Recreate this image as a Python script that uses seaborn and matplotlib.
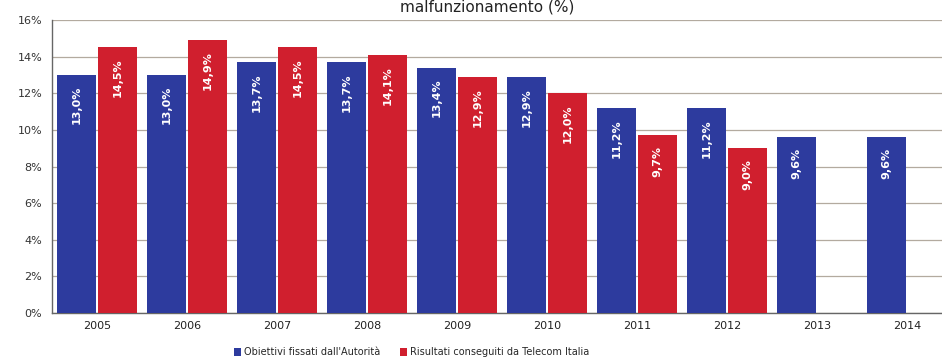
import numpy as np
import pandas as pd
import matplotlib
matplotlib.use("Agg")
import matplotlib.pyplot as plt
import seaborn as sns

anni = ["2005", "2006", "2007", "2008", "2009", "2010", "2011", "2012", "2013", "2014"]
obiettivi = [13.0, 13.0, 13.7, 13.7, 13.4, 12.9, 11.2, 11.2, 9.6, 9.6]
risultati = [14.5, 14.9, 14.5, 14.1, 12.9, 12.0, 9.7, 9.0, np.nan, np.nan]
serie = ["Obiettivi fissati dall'Autorità", "Risultati conseguiti da Telecom Italia"]
colori = ["#2d3b9e", "#d01f2e"]

df = pd.DataFrame({
    "anno": anni * 2,
    "valore": obiettivi + risultati,
    "serie": [serie[0]] * len(anni) + [serie[1]] * len(anni),
})

sns.set_style("white")
plt.rcParams["font.family"] = ["DejaVu Sans"]

fig = plt.figure(figsize=(9.42, 3.63), dpi=100)
ax = fig.add_axes([52 / 942, 1 - 313 / 363, 900 / 942, 293 / 363])

sns.barplot(data=df, x="anno", y="valore", hue="serie", order=anni,
            hue_order=serie, palette=colori, width=0.9, gap=0.03,
            saturation=1, edgecolor="none", ax=ax, legend=True, zorder=3)

# etichette ruotate dentro le barre
for cont in ax.containers:
    for barra in cont:
        h = barra.get_height()
        if np.isnan(h) or h == 0:
            continue
        ax.text(barra.get_x() + barra.get_width() / 2, h - 0.6,
                f"{h:.1f}%".replace(".", ","), rotation=90, ha="center",
                va="top", color="white", fontsize=8, fontweight="bold", zorder=4)

ax.set_ylim(0, 16)
ax.set_xlim(-0.5, len(anni) - 0.5)
ax.set_yticks(range(0, 17, 2))
ax.set_yticklabels([f"{v}%" for v in range(0, 17, 2)], fontsize=8, color="#333333")
ax.set_xticks(range(len(anni)))
ax.set_xticklabels(anni, fontsize=8, color="#222222")
ax.set_xticks(np.arange(0.5, len(anni) - 0.5, 1), minor=True)
ax.tick_params(axis="x", which="major", length=0, pad=6)
ax.tick_params(axis="x", which="minor", length=3, color="#555555", direction="out")
ax.tick_params(axis="y", length=4, color="#555555", direction="out", pad=3)
ax.yaxis.grid(True, color="#b3aa9f", linewidth=0.9, zorder=0)
ax.set_axisbelow(True)
ax.set_xlabel("")
ax.set_ylabel("")
for lato in ["top", "right"]:
    ax.spines[lato].set_visible(False)
for lato in ["left", "bottom"]:
    ax.spines[lato].set_color("#666666")
    ax.spines[lato].set_linewidth(1)

maniglie, etichette = ax.get_legend_handles_labels()
ax.get_legend().remove()
fig.legend(maniglie, etichette, loc="center", bbox_to_anchor=(0.437, 0.03),
           ncol=2, frameon=False, fontsize=7, handlelength=0.7,
           handleheight=0.9, handletextpad=0.3, columnspacing=2.0)

fig.text(487 / 942, 1 - 12 / 363, "malfunzionamento (%)", ha="center",
         va="baseline", fontsize=11, color="#222222")

fig.savefig("out.png", dpi=100)
